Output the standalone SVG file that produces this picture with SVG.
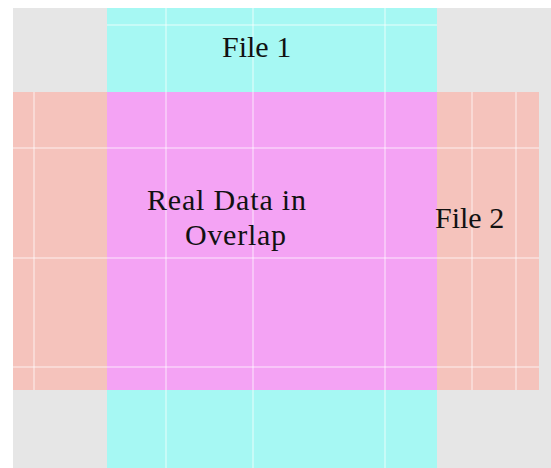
<svg xmlns="http://www.w3.org/2000/svg" width="551" height="468" viewBox="0 0 551 468">
  <style>
    .lbl { font-family: "Liberation Serif", "Times New Roman", serif; font-size: 30px; fill: #111; }
    .grid { stroke: #ffffff; stroke-opacity: 0.5; stroke-width: 1.5; fill: none; }
  </style>
  <rect x="0" y="0" width="551" height="468" fill="#ffffff"/>
  <rect x="13" y="8" width="538" height="460" fill="#e6e6e6"/>
  <g id="file2">
    <rect x="13" y="92" width="526" height="298" fill="#f5c3bc"/>
  </g>
  <g id="file1">
    <rect x="107" y="8" width="330" height="460" fill="#a6f8f3"/>
  </g>
  <g id="overlap">
    <rect x="107" y="92" width="330" height="298" fill="#f4a3f4"/>
  </g>
  <g id="grid">
    <line class="grid" x1="166" y1="8" x2="166" y2="468"/>
    <line class="grid" x1="253" y1="8" x2="253" y2="468"/>
    <line class="grid" x1="385" y1="8" x2="385" y2="468"/>
    <line class="grid" x1="34" y1="92" x2="34" y2="390"/>
    <line class="grid" x1="472" y1="92" x2="472" y2="390"/>
    <line class="grid" x1="516" y1="92" x2="516" y2="390"/>
    <line class="grid" x1="107" y1="25" x2="437" y2="25"/>
    <line class="grid" x1="13" y1="148" x2="539" y2="148"/>
    <line class="grid" x1="13" y1="258" x2="539" y2="258"/>
    <line class="grid" x1="13" y1="367" x2="539" y2="367"/>
  </g>
  <g id="labels">
    <text class="lbl" x="222" y="57">File 1</text>
    <text class="lbl" x="147" y="210" textLength="159" lengthAdjust="spacing">Real Data in</text>
    <text class="lbl" x="185" y="245" textLength="101" lengthAdjust="spacing">Overlap</text>
    <text class="lbl" x="435" y="228">File 2</text>
  </g>
</svg>
